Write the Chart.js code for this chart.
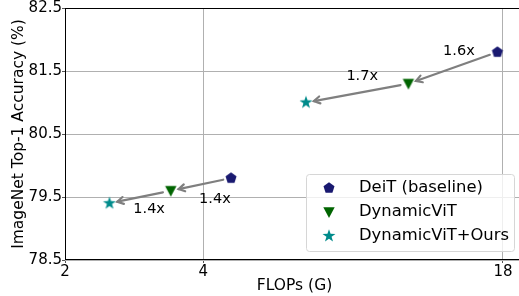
<!DOCTYPE html>
<html>
<head>
<meta charset="utf-8">
<script src="https://cdn.jsdelivr.net/npm/chart.js@4.4.1/dist/chart.umd.min.js"></script>
<style>
  html, body { margin: 0; padding: 0; background: #fff; overflow: hidden; }
  #chart { display: block; }
</style>
</head>
<body>
<!-- a little wider than the window: the right spine is cropped off, as in the original -->
<canvas id="chart" width="524" height="296"></canvas>
<script>
// series names and values (FLOPs in G, top-1 accuracy in %)
const seriesNames = ['DeiT (baseline)', 'DynamicViT', 'DynamicViT+Ours'];
const flopsDeiT = [4.6, 17.5];
const accDeiT = [79.8, 81.8];
const flopsDyn = [3.4, 11.2];
const accDyn = [79.6, 81.3];
const flopsOurs = [2.5, 6.7];
const accOurs = [79.4, 81.0];
// speed-up labels on the arrows
const speedDyn = ['1.4x', '1.6x'];
const speedOurs = ['1.4x', '1.7x'];
// axis ticks
const xTicks = [2, 4, 18];
const yTicks = [78.5, 79.5, 80.5, 81.5, 82.5];

const FONT = "'DejaVu Sans', sans-serif";
const colors = ['#191970', '#006400', '#008b8b'];

function makeMarker(shape, color) {
  const s = 16, c = document.createElement('canvas');
  c.width = s; c.height = s;
  const g = c.getContext('2d');
  const cx = s / 2, cy = s / 2;
  g.fillStyle = color;
  g.beginPath();
  if (shape === 'pentagon') {
    const r = 5.8;
    for (let k = 0; k < 5; k++) {
      const a = -Math.PI / 2 + k * 2 * Math.PI / 5;
      g.lineTo(cx + r * Math.cos(a), cy + r * Math.sin(a));
    }
  } else if (shape === 'tri_down') {
    g.moveTo(cx - 5.7, cy - 4.8);
    g.lineTo(cx + 5.7, cy - 4.8);
    g.lineTo(cx, cy + 6);
  } else {
    const ro = 6.8, ri = 2.7;
    for (let k = 0; k < 10; k++) {
      const a = -Math.PI / 2 + k * Math.PI / 5;
      const r = k % 2 ? ri : ro;
      g.lineTo(cx + r * Math.cos(a), cy + r * Math.sin(a));
    }
  }
  g.closePath();
  g.fill();
  return c;
}

const markers = [
  makeMarker('pentagon', colors[0]),
  makeMarker('tri_down', colors[1]),
  makeMarker('star', colors[2])
];

function pts(xs, ys) { return xs.map((x, i) => ({ x: x, y: ys[i] })); }

const overlay = {
  id: 'overlay',
  afterDatasetsDraw(chart) {
    const ctx = chart.ctx, xs = chart.scales.x, ys = chart.scales.y;
    const pairs = [
      [flopsDeiT, accDeiT, flopsDyn, accDyn, speedDyn],
      [flopsDyn, accDyn, flopsOurs, accOurs, speedOurs]
    ];
    // label offsets from arrow midpoint, [pair][model]
    const offs = [[[14, 15], [6, -17]], [[9, 12], [5, -17]]];
    ctx.save();
    pairs.forEach((p, pi) => {
      for (let i = 0; i < p[0].length; i++) {
        const x0 = xs.getPixelForValue(p[0][i]), y0 = ys.getPixelForValue(p[1][i]);
        const x1 = xs.getPixelForValue(p[2][i]), y1 = ys.getPixelForValue(p[3][i]);
        const dx = x1 - x0, dy = y1 - y0, len = Math.hypot(dx, dy);
        const ux = dx / len, uy = dy / len;
        const sx = x0 + ux * 8, sy = y0 + uy * 8;
        const ex = x1 - ux * 8, ey = y1 - uy * 8;
        ctx.strokeStyle = '#7f7f7f';
        ctx.lineWidth = 2.2;
        ctx.lineCap = 'round';
        ctx.beginPath();
        ctx.moveTo(sx, sy);
        ctx.lineTo(ex, ey);
        ctx.stroke();
        const hl = 6, hw = 3.5;
        ctx.beginPath();
        ctx.moveTo(ex - ux * hl - uy * hw, ey - uy * hl + ux * hw);
        ctx.lineTo(ex, ey);
        ctx.lineTo(ex - ux * hl + uy * hw, ey - uy * hl - ux * hw);
        ctx.stroke();
        const o = offs[pi][i];
        ctx.fillStyle = '#000';
        ctx.font = '14.5px ' + FONT;
        ctx.textAlign = 'center';
        ctx.textBaseline = 'middle';
        ctx.fillText(p[4][i], (sx + ex) / 2 + o[0], (sy + ey) / 2 + o[1]);
      }
    });
    // frame
    const a = chart.chartArea;
    ctx.strokeStyle = '#000';
    ctx.lineWidth = 1;
    ctx.strokeRect(a.left + 0.5, a.top + 0.5, a.right - a.left - 1, a.bottom - a.top - 1);
    ctx.restore();
  },
  afterDraw(chart) {
    const ctx = chart.ctx, a = chart.chartArea;
    const bw = 208, bh = 77;
    const bx = a.right - 10 - bw, by = a.bottom - 9 - bh;
    ctx.save();
    ctx.beginPath();
    ctx.roundRect(bx + 0.5, by + 0.5, bw, bh, 3);
    ctx.fillStyle = 'rgba(255,255,255,0.8)';
    ctx.fill();
    ctx.strokeStyle = '#d6d6d6';
    ctx.lineWidth = 1;
    ctx.stroke();
    ctx.font = '16.4px ' + FONT;
    ctx.textAlign = 'left';
    ctx.textBaseline = 'middle';
    ctx.fillStyle = '#000';
    seriesNames.forEach((name, i) => {
      const yy = by + 14 + i * 24;
      ctx.drawImage(markers[i], bx + 23 - 8, yy - 8);
      ctx.fillText(name, bx + 53, yy);
    });
    ctx.restore();
  }
};

new Chart(document.getElementById('chart'), {
  type: 'scatter',
  data: {
    datasets: [
      { label: seriesNames[0], data: pts(flopsDeiT, accDeiT), pointStyle: markers[0] },
      { label: seriesNames[1], data: pts(flopsDyn, accDyn), pointStyle: markers[1] },
      { label: seriesNames[2], data: pts(flopsOurs, accOurs), pointStyle: markers[2] }
    ]
  },
  options: {
    responsive: false,
    animation: false,
    layout: { autoPadding: false, padding: { top: 8, right: 0, left: 0, bottom: 0 } },
    plugins: { legend: { display: false }, tooltip: { enabled: false } },
    scales: {
      x: {
        type: 'logarithmic',
        min: 2,
        max: 20,
        afterBuildTicks: s => { s.ticks = xTicks.map(v => ({ value: v })); },
        afterFit: s => { s.height = 36; s.paddingLeft = 0; s.paddingRight = 0; },
        ticks: {
          color: '#000',
          font: { family: FONT, size: 15 },
          padding: 0,
          callback: v => String(v)
        },
        grid: { color: '#b0b0b0', tickColor: '#555', tickLength: 3 },
        border: { display: false },
        title: {
          display: true,
          text: 'FLOPs (G)',
          color: '#000',
          font: { family: FONT, size: 15.5 },
          padding: { top: 0, bottom: 1 }
        }
      },
      y: {
        min: 78.5,
        max: 82.5,
        afterBuildTicks: s => { s.ticks = yTicks.map(v => ({ value: v })); },
        afterFit: s => { s.width = 65; s.paddingTop = 0; s.paddingBottom = 0; },
        ticks: {
          color: '#000',
          font: { family: FONT, size: 15 },
          padding: 0,
          callback: v => Number(v).toFixed(1)
        },
        grid: { color: '#b0b0b0', tickColor: '#555', tickLength: 3 },
        border: { display: false },
        title: {
          display: true,
          text: 'ImageNet Top-1 Accuracy (%)',
          color: '#000',
          font: { family: FONT, size: 15.5 },
          padding: { top: 10, bottom: 0 }
        }
      }
    }
  },
  plugins: [overlay]
});
</script>
</body>
</html>
